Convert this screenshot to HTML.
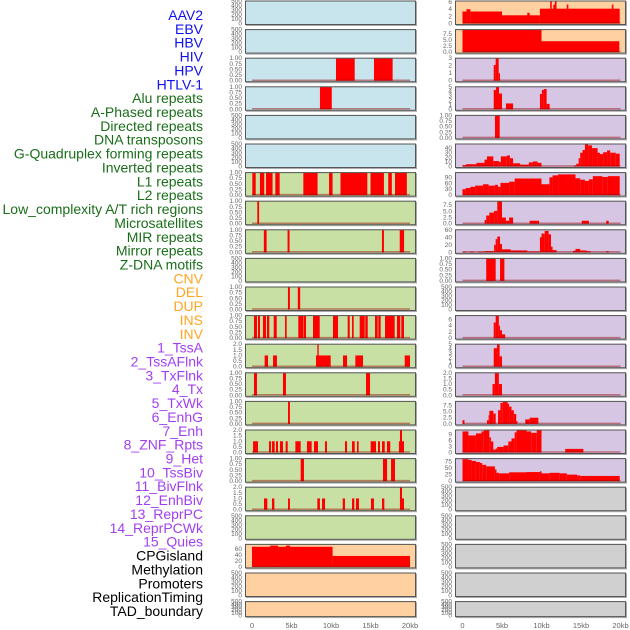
<!DOCTYPE html>
<html><head><meta charset="utf-8">
<style>
html,body{margin:0;padding:0;background:#fff;}
svg{display:block;font-family:"Liberation Sans",sans-serif;}
</style></head>
<body>
<svg id="chart" width="630" height="630" viewBox="0 0 630 630" xmlns="http://www.w3.org/2000/svg"></svg>
<script>
// ---- labels ----
const trackLabels = ["AAV2","EBV","HBV","HIV","HPV","HTLV-1","Alu repeats","A-Phased repeats","Directed repeats","DNA transposons","G-Quadruplex forming repeats","Inverted repeats","L1 repeats","L2 repeats","Low_complexity A/T rich regions","Microsatellites","MIR repeats","Mirror repeats","Z-DNA motifs","CNV","DEL","DUP","INS","INV","1_TssA","2_TssAFlnk","3_TxFlnk","4_Tx","5_TxWk","6_EnhG","7_Enh","8_ZNF_Rpts","9_Het","10_TssBiv","11_BivFlnk","12_EnhBiv","13_ReprPC","14_ReprPCWk","15_Quies","CPGisland","Methylation","Promoters","ReplicationTiming","TAD_boundary"];
const labelGroups = ["virus","virus","virus","virus","virus","virus","repeat","repeat","repeat","repeat","repeat","repeat","repeat","repeat","repeat","repeat","repeat","repeat","repeat","sv","sv","sv","sv","sv","chrom","chrom","chrom","chrom","chrom","chrom","chrom","chrom","chrom","chrom","chrom","chrom","chrom","chrom","chrom","other","other","other","other","other"];
const xTickValues = [0,5,10,15,20];
const xTickLabels = ["0","5kb","10kb","15kb","20kb"];

// ---- left column track data: [startKb, endKb, value] ----
const leftRow2 = [[10.63,13.0,1],[15.44,17.8,1]];
const leftRow3 = [[8.6,10.1,1]];
const leftRow6 = [[0.04,0.47,1],[1.0,1.55,1],[1.77,2.6,1],[2.95,3.5,1],[6.5,8.3,1],[9.75,10.2,1],[11.2,14.6,1],[15.0,16.7,1],[17.25,17.7,1],[18.1,19.6,1]];
const leftRow7 = [[0.67,0.9,1]];
const leftRow8 = [[1.5,1.85,1],[4.5,4.75,1],[16.45,16.7,1],[18.7,19.25,1]];
const leftRow10 = [[4.55,4.8,1],[5.8,6.1,1]];
const leftRow11 = [[0.25,0.63,1],[0.76,1.01,1],[1.39,1.77,1],[1.9,2.19,1],[2.75,3.13,1],[4.18,4.39,1],[5.86,6.49,1],[6.54,6.84,1],[7.72,8.57,1],[10.25,10.89,1],[12.11,12.37,1],[12.66,12.87,1],[13.63,14.27,1],[14.34,14.65,1],[15.57,15.91,1],[15.99,16.29,1],[16.84,18.06,1],[18.35,18.77,1],[18.9,19.24,1]];
const leftRow12 = [[1.6,2.03,1],[2.66,3.16,1],[8.1,9.96,1],[8.27,8.44,2],[11.52,12.03,1],[13.08,14.05,1],[19.33,20.0,1]];
const leftRow13 = [[0.25,0.63,1],[3.92,4.3,1],[14.43,14.94,1]];
const leftRow14 = [[4.56,4.8,1]];
const leftRow15 = [[0.13,0.76,1],[2.15,2.4,1],[2.53,2.87,1],[3.04,3.29,1],[3.54,3.92,1],[4.26,4.52,1],[5.49,6.16,1],[6.96,7.55,1],[7.85,8.35,1],[9.24,9.49,1],[11.77,12.03,1],[12.66,13.0,1],[13.29,13.5,1],[15.02,15.7,1],[15.95,16.2,1],[16.46,16.8,1],[17.09,17.5,1],[18.6,19.24,1],[18.73,18.99,2]];
const leftRow16 = [[6.16,6.58,1],[16.58,17.1,1],[17.6,18.1,1]];
const leftRow17 = [[1.52,1.94,1],[2.53,2.83,1],[4.56,4.8,1],[8.27,8.6,1],[8.86,9.24,1],[11.48,11.77,1],[12.66,12.95,1],[13.16,13.54,1],[15.06,15.44,1],[16.46,16.75,1],[18.73,19.24,1],[18.73,18.99,2]];
const leftRow19 = [[0,10.2,68],[2.3,3.3,72],[4.3,4.8,72],[10.2,20,37]];

// ---- right column track data ----
const rightRow0 = [[0,0.5,3.36],[0.5,1.0,4.0],[1.0,5.0,3.36],[5.0,9.8,2.3],[8.2,8.5,3.0],[9.8,19.9,4.15],[11.1,11.3,6.3],[11.5,11.8,5.3],[11.7,11.9,6.3],[13.2,13.4,5.3],[18.9,19.1,5.3]];
const rightRow1 = [[0,10.0,9.1],[10.0,19.85,4.45]];
const rightRow2 = [[3.95,4.2,2.1],[4.2,4.58,3.0],[4.58,4.75,1.0]];
const rightRow3 = [[3.95,4.24,4.3],[4.24,4.62,5.0],[4.62,5.0,3.5],[5.5,6.4,1.3],[9.8,10.05,3.4],[10.05,10.3,4.3],[10.3,10.65,4.5],[10.65,11.03,1.2]];
const rightRow4 = [[4.11,4.71,1.0]];
const rightRow5 = [[0,0.45,3],[0.45,1.77,5],[1.77,2.78,8],[2.78,3.1,15],[3.1,3.9,22],[3.9,4.6,12],[4.6,4.85,10],[4.85,5.6,22],[5.6,6.0,24],[6.0,6.4,18],[6.4,7.3,7],[7.3,8.4,4],[8.4,8.9,9],[8.9,9.5,11],[9.5,10.0,8],[14.1,14.4,2],[14.4,14.7,6],[14.7,14.9,18],[14.9,15.2,30],[15.2,15.5,36],[15.5,15.9,48],[15.9,16.4,46],[16.4,17.1,40],[17.1,17.4,30],[17.4,17.8,27],[17.8,18.3,31],[18.3,18.7,35],[18.7,19.4,30],[19.4,19.9,28]];
const rightRow6 = [[0,0.4,30],[0.4,1.0,36],[1.0,1.6,42],[1.6,2.6,48],[2.6,3.3,55],[3.3,4.1,48],[4.1,4.5,52],[4.5,4.8,42],[4.8,5.9,62],[5.9,6.6,68],[6.6,10.0,84],[10.0,11.0,55],[11.0,11.4,90],[11.4,12.1,100],[12.1,14.3,105],[14.3,14.9,85],[14.9,15.5,78],[15.5,16.0,72],[16.0,16.5,80],[16.5,17.7,96],[17.7,18.4,92],[18.4,19.9,96]];
const rightRow7 = [[2.8,3.0,1.5],[3.0,3.4,3.3],[3.4,4.0,4.5],[4.0,4.4,5.2],[4.4,5.0,9.0],[5.0,5.5,2.5],[5.5,5.9,1.2],[5.9,6.4,2.5],[8.5,9.7,1.2],[15.1,16.0,1.2],[18.2,18.5,1.2]];
const rightRow8 = [[0,0.5,1.5],[0.9,1.45,1.5],[2.0,2.8,1.5],[2.8,4.0,3],[4.0,4.2,20],[4.2,4.4,35],[4.4,4.75,42],[4.75,5.0,22],[5.0,6.1,8],[6.1,8.2,5],[8.2,9.8,2],[9.8,10.0,40],[10.0,10.4,50],[10.4,10.9,57],[10.9,11.2,48],[11.2,11.4,15],[11.4,11.9,6],[14.0,14.3,4],[14.3,14.9,9],[14.9,15.7,5],[15.7,16.2,3],[18.2,18.5,3]];
const rightRow9 = [[3.0,4.2,1],[4.75,5.3,1]];
const rightRow11 = [[3.95,4.2,5],[4.2,4.6,7.2],[4.6,4.75,4],[4.75,5.0,2.5],[5.0,5.4,1.2]];
const rightRow12 = [[3.95,4.37,4.1],[4.37,4.7,5.0],[4.7,5.0,2.3]];
const rightRow13 = [[3.8,4.1,1.0],[4.1,4.6,2.0],[4.6,5.0,1.0]];
const rightRow14 = [[0,0.25,1.5],[3.1,3.3,1.5],[3.3,3.4,3.5],[3.4,3.9,5.3],[3.9,4.2,4.2],[4.5,4.8,5.5],[4.8,5.1,8.5],[5.1,5.7,9.0],[5.7,5.9,8.2],[5.9,6.2,7.0],[6.2,6.5,5.5],[6.5,6.8,4],[6.8,6.95,1.2],[7.95,8.5,1.8],[8.5,9.6,2.5]];
const rightRow15 = [[0,0.75,10.5],[0.75,1.7,8.5],[1.7,2.4,9.5],[2.4,2.7,10.5],[2.7,3.4,11.2],[3.4,3.6,7.5],[3.6,3.9,5.5],[3.9,4.2,1.5],[4.2,4.4,2.0],[4.4,5.2,2.8],[5.2,5.8,3.5],[5.8,6.2,5.5],[6.2,6.6,7.0],[6.6,6.85,10],[6.85,8.1,11.2],[8.1,8.7,10.5],[8.7,9.4,9.8],[9.4,10.0,11.2],[13.0,15.3,1.8]];
const rightRow16 = [[0,0.75,85],[0.75,1.15,82],[1.15,1.7,78],[1.7,2.2,74],[2.2,2.5,70],[2.5,3.0,63],[3.0,4.1,57],[4.1,4.3,45],[4.3,4.65,32],[4.65,5.9,30],[5.9,8.1,34],[8.1,9.8,35],[9.8,10.0,38],[10.0,11.0,30],[11.0,12.3,32],[12.3,13.2,30],[13.2,14.5,25],[14.5,14.9,22],[14.9,19.9,20]];

// ---- per-panel y-axis config ----
const T01 = ["0.00","0.25","0.50","0.75","1.00"];
const T02 = ["0.0","0.5","1.0","1.5","2.0"];
const T500 = ["0","100","200","300","400","500"];
const leftData = [null,null,leftRow2,leftRow3,null,null,leftRow6,leftRow7,leftRow8,null,leftRow10,leftRow11,leftRow12,leftRow13,leftRow14,leftRow15,leftRow16,leftRow17,null,leftRow19,null,null];
const leftYmax = [500,500,1,1,500,500,1,1,1,500,1,1,2,1,1,2,1,2,500,76,500,500];
const leftTicks = [T500,T500,T01,T01,T500,T500,T01,T01,T01,T500,T01,T01,T02,T01,T01,T02,T01,T02,T500,["0","20","40","60"],T500,T500];
const rightData = [rightRow0,rightRow1,rightRow2,rightRow3,rightRow4,rightRow5,rightRow6,rightRow7,rightRow8,rightRow9,null,rightRow11,rightRow12,rightRow13,rightRow14,rightRow15,rightRow16,null,null,null,null,null];
const rightYmax = [6.3,9.2,3,5,1,49,114,9.1,60,1,500,7.2,5,2,9.1,11.2,87,500,500,500,500,500];
const rightTicks = [["0","2","4","6"],["0.0","2.5","5.0","7.5"],["0","1","2","3"],["0","1","2","3","4","5"],T01,["0","10","20","30","40"],["0","30","60","90"],["0.0","2.5","5.0","7.5"],["0","20","40","60"],T01,T500,["0","2","4","6"],["0","1","2","3","4","5"],T02,["0.0","2.5","5.0","7.5"],["0","3","6","9"],["0","25","50","75"],T500,T500,T500,T500,T500];

const NS = "http://www.w3.org/2000/svg";
const svg = document.getElementById("chart");
function mk(tag, attrs, parent){
  const e = document.createElementNS(NS, tag);
  for (const k in attrs) e.setAttribute(k, attrs[k]);
  (parent||svg).appendChild(e);
  return e;
}
const groupColor = {virus:"#1010f0",repeat:"#1a6e1a",sv:"#ffa522",chrom:"#a23ff0",other:"#000"};

// labels
trackLabels.forEach((t,i)=>{
  const el = mk("text",{x:203,y:15+13.86*i+5,"text-anchor":"end","font-size":"14",fill:groupColor[labelGroups[i]]});
  
  
  el.textContent = t;
});

function bgColor(col,r){
  if(col===0){ if(r<=5) return "#c8e4ec"; if(r<=18) return "#c8e0a4"; return "#ffd0a0"; }
  if(r<=1) return "#ffd0a0"; if(r<=16) return "#d6c6e4"; return "#d0d0d0";
}

function drawPanel(col,r,data,ymax,ticks){
  const px = col===0?245:455, pw = 171;
  const x0 = col===0?252:462.5, kbw = 7.9;
  const top = 0.5+28.6*r, h = r===21?16:24.5;
  const xs = kb => x0 + kb*kbw;
  const yBottom = top+h-1.5, yTop = top+0.5;
  const ys = v => yBottom - (v/ymax)*(yBottom-yTop);
  const g = mk("g",{});
  
  
  const shadow = mk("rect",{x:px+1,y:top+1,width:pw,height:h,fill:"#aaa"},g);
  
  
  const bg = mk("rect",{x:px,y:top,width:pw,height:h,fill:bgColor(col,r)},g);
  
  
  if(data){
    data.forEach(d=>{
      const b = mk("rect",{x:xs(d[0]),y:ys(d[2]),width:Math.max(0.8,xs(d[1])-xs(d[0])),height:yBottom-ys(d[2]),fill:"#ff0000"},g);
      
      
    });
    const bl = mk("line",{x1:xs(0),x2:xs(20),y1:yBottom-0.5,y2:yBottom-0.5,stroke:"rgba(150,0,0,0.45)","stroke-width":1.5},g);
    
    
  }
  const border = mk("rect",{x:px+0.5,y:top+0.5,width:pw-1,height:h-1,fill:"none",stroke:"#555","stroke-width":1},g);
  
  
  ticks.forEach(t=>{
    const v = parseFloat(t);
    const tl = mk("text",{x:px-3,y:ys(v)+2,"text-anchor":"end","font-size":"6.5",fill:"#666"},g);
    
    
    tl.textContent = t;
  });
  if(r===21){
    xTickValues.forEach((v,i)=>{
      const xl = mk("text",{x:xs(v),y:628,"text-anchor":"middle","font-size":"7.5",fill:"#666"},g);
      
      
      xl.textContent = xTickLabels[i];
    });
  }
}
for(let r=0;r<22;r++){
  drawPanel(0,r,leftData[r],leftYmax[r],leftTicks[r]);
  drawPanel(1,r,rightData[r],rightYmax[r],rightTicks[r]);
}
</script>
</body></html>
